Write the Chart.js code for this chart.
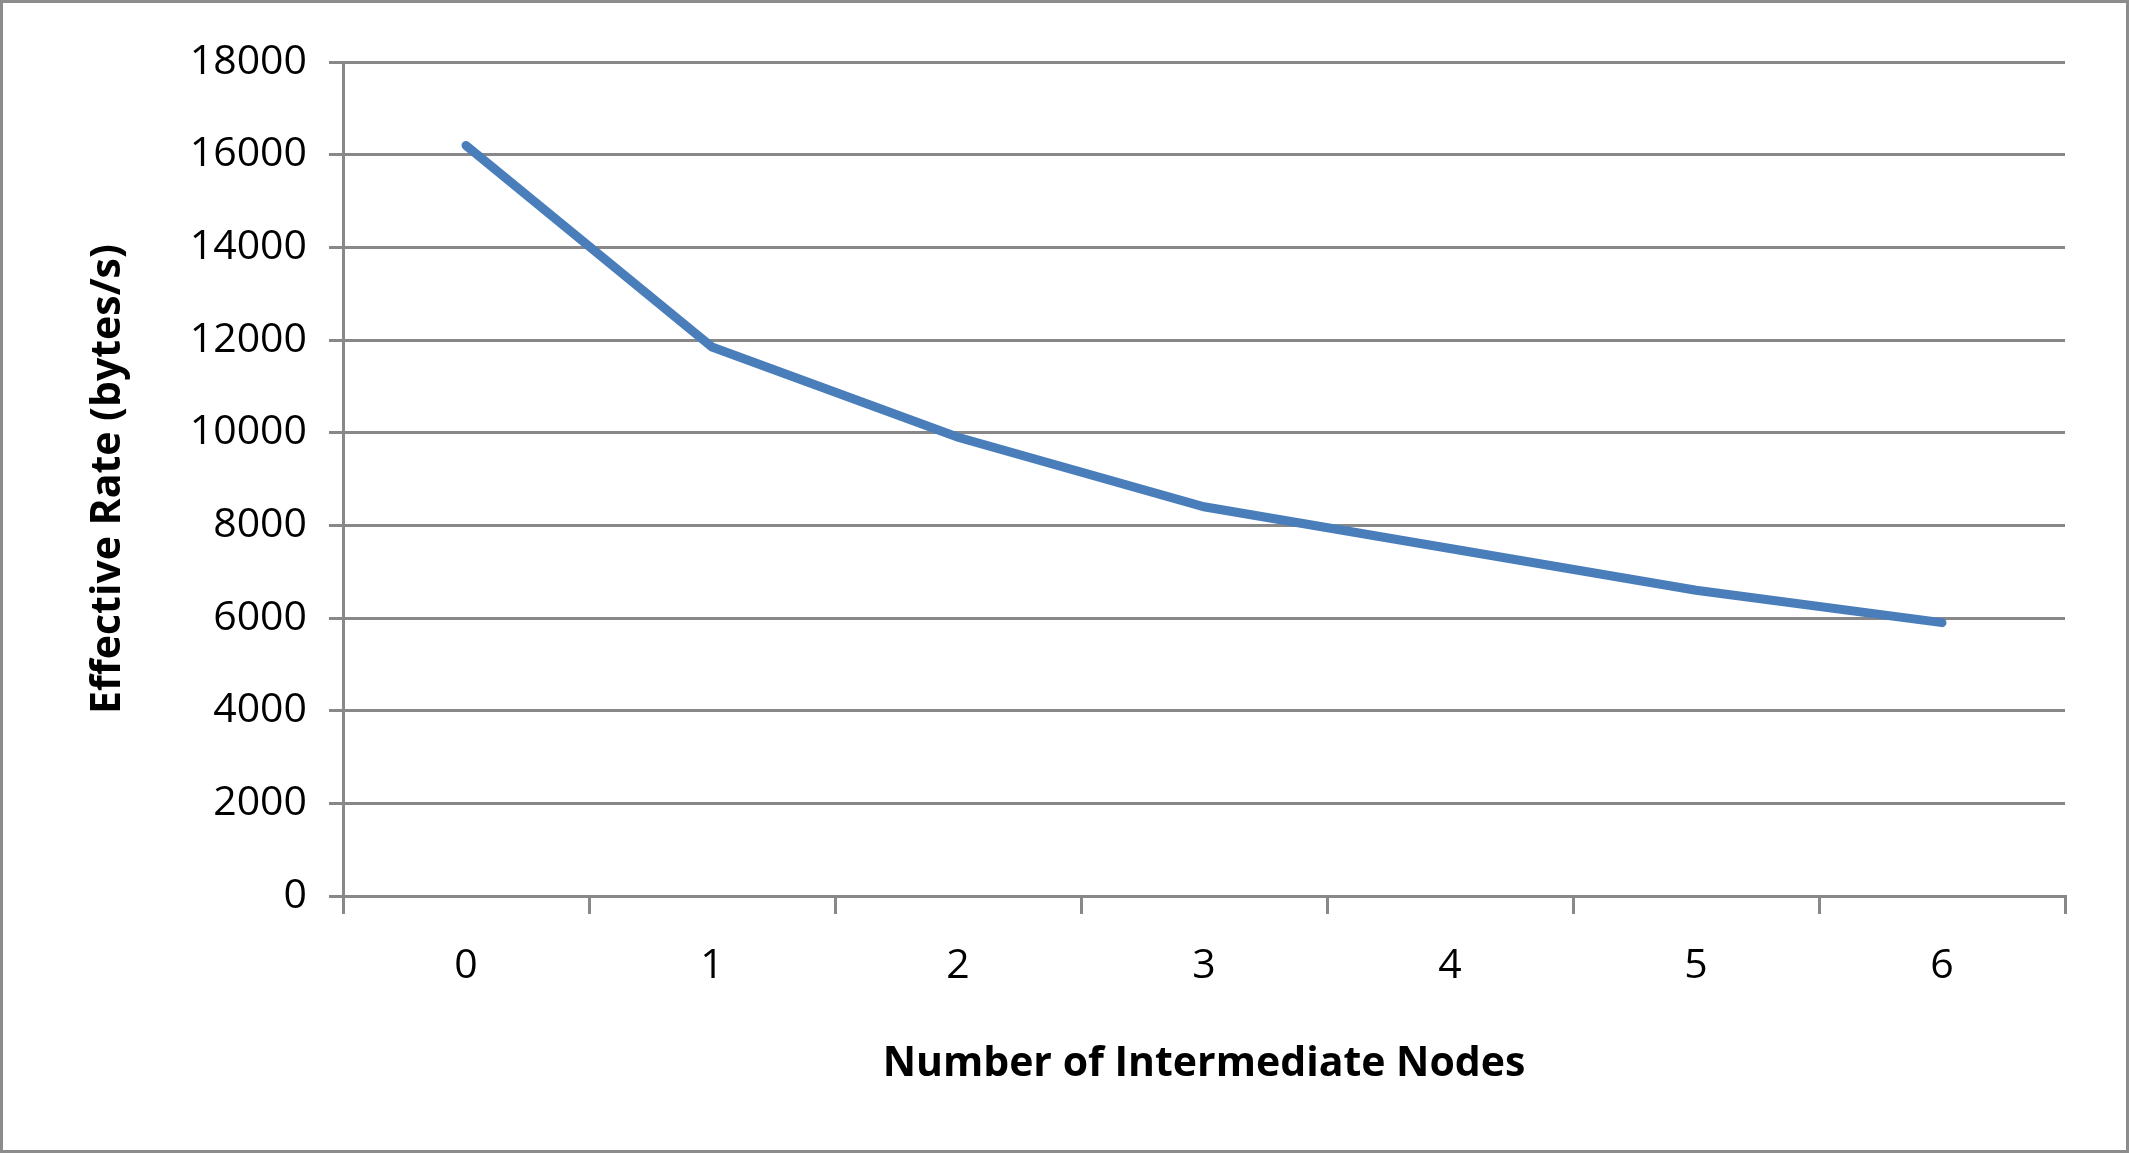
<!DOCTYPE html>
<html><head><meta charset="utf-8">
<script src="https://cdn.jsdelivr.net/npm/chart.js@4/dist/chart.umd.min.js"></script>
<style>html,body{margin:0;padding:0;background:#fff}#w{width:2129px;height:1153px}</style>
</head><body><div id="w"><canvas id="c"></canvas></div>
<script>
const categories = ["0","1","2","3","4","5","6"];
const rates = [16200, 11850, 9900, 8400, 7500, 6600, 5900];
const border = {id:'border',afterDraw(ch){const c=ch.ctx;c.save();c.strokeStyle='#8c8c8c';c.lineWidth=3;c.strokeRect(1.5,1.5,ch.width-3,ch.height-3);c.restore();}};
new Chart(document.getElementById('c'),{
type:'line',
data:{labels:categories,datasets:[{data:rates,borderColor:'#4a7ebb',borderWidth:9,pointRadius:0,tension:0,borderCapStyle:'round'}]},
options:{responsive:true,maintainAspectRatio:false,animation:false,
layout:{padding:{left:80,top:62,right:64,bottom:60}},
plugins:{legend:{display:false},tooltip:{enabled:false}},
scales:{
x:{offset:true,grid:{offset:true,drawOnChartArea:false,color:'#888',lineWidth:3,tickLength:18,tickColor:'#888'},
border:{color:'#888',width:3},
ticks:{color:'#000',font:{family:'Open Sans',size:41},padding:28},
title:{display:true,text:'Number of Intermediate Nodes',color:'#000',font:{family:'Open Sans',size:41,weight:'bold'},padding:{top:12}},
afterFit(s){s.height=197;}},
y:{min:0,max:18000,ticks:{stepSize:2000,color:'#000',font:{family:'Open Sans',size:41},padding:22,callback:v=>String(v)},
grid:{color:'#888',lineWidth:3,tickLength:14,tickColor:'#888'},border:{color:'#888',width:3},
title:{display:true,text:'Effective Rate (bytes/s)',color:'#000',font:{family:'Open Sans',size:41,weight:'bold'}},
afterFit(s){s.width=263;}}
}},plugins:[border]});
</script></body></html>
